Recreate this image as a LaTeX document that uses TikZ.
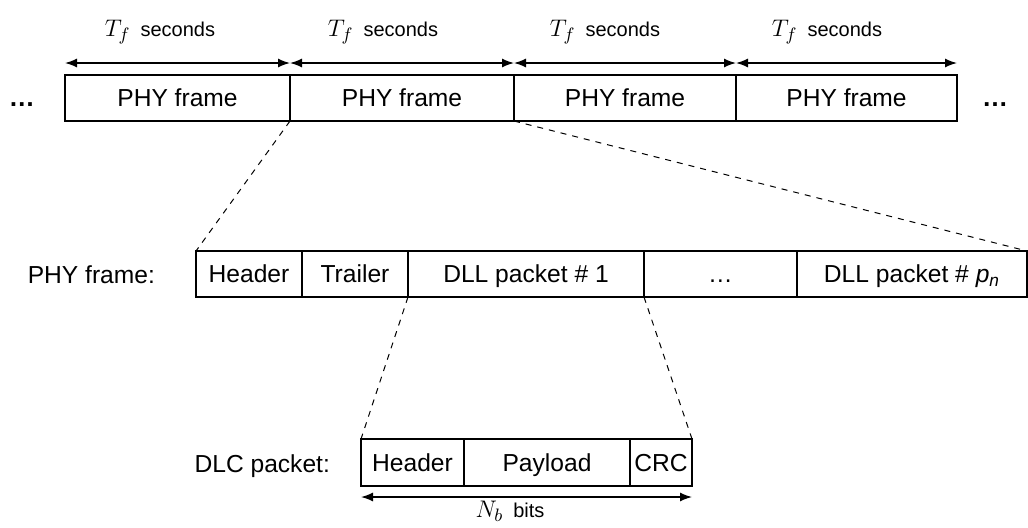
\documentclass[tikz,border=0pt]{standalone}
\usepackage{fontspec}
\setmainfont{Liberation Sans}
\usetikzlibrary{positioning, arrows.meta}
\tikzset{
  cell/.style={draw, line width=0.7pt, minimum height=23pt, inner sep=0pt, outer sep=0pt,
    text height=8.8pt, text depth=0pt},
  span/.style={line width=0.7pt, {Latex[length=6pt, width=4.5pt]}-{Latex[length=6pt, width=4.5pt]}},
  zoomline/.style={dashed, line width=0.5pt},
  small/.style={anchor=base, font=\fontsize{10}{12}\selectfont},
}
\begin{document}
\begin{tikzpicture}[x=0.5pt, y=-0.5pt, font=\fontsize{12.3}{14}\selectfont]
    \useasboundingbox (0,0) rectangle (1028,527);
    % PHY frames
    \node[cell, minimum width=112.5pt] (f1) at (177.5,98) {PHY frame};
    \node[cell, minimum width=112pt, right=0pt of f1] (f2) {PHY frame};
    \node[cell, minimum width=111pt, right=0pt of f2] (f3) {PHY frame};
    \node[cell, minimum width=110.5pt, right=0pt of f3] (f4) {PHY frame};
    \node[anchor=base, font=\fontsize{13}{15}\selectfont\bfseries] (dotsl) at (22,106) {…};
    \node[anchor=base, font=\fontsize{13}{15}\selectfont\bfseries] (dotsr) at (995,106) {…};
    \draw[span] ([yshift=6pt]f1.north west) -- ([yshift=6pt]f1.north east);
    \draw[span] ([yshift=6pt]f2.north west) -- ([yshift=6pt]f2.north east);
    \draw[span] ([yshift=6pt]f3.north west) -- ([yshift=6pt]f3.north east);
    \draw[span] ([yshift=6pt]f4.north west) -- ([yshift=6pt]f4.north east);
    \node[small] (t1) at (160,36) {{\fontsize{13}{15}\selectfont$T_f$}\hspace{5pt}seconds};
    \node[small] (t2) at (383,36) {{\fontsize{13}{15}\selectfont$T_f$}\hspace{5pt}seconds};
    \node[small] (t3) at (605,36) {{\fontsize{13}{15}\selectfont$T_f$}\hspace{5pt}seconds};
    \node[small] (t4) at (827,36) {{\fontsize{13}{15}\selectfont$T_f$}\hspace{5pt}seconds};
    % PHY frame layout
    \node[anchor=base east] (phylabel) at (162,283) {PHY frame:};
    \node[cell, minimum width=53pt] (m1) at (249,274) {Header};
    \node[cell, minimum width=53pt, right=0pt of m1] (m2) {Trailer};
    \node[cell, minimum width=118pt, right=0pt of m2] (m3) {DLL packet \# 1};
    \node[cell, minimum width=76.5pt, right=0pt of m3] (m4) {…};
    \node[cell, minimum width=115pt, right=0pt of m4] (m5) {DLL packet \# \textit{p}\textsubscript{\textit{n}}};
    \draw[zoomline] (f2.south west) -- (m1.north west);
    \draw[zoomline] (f2.south east) -- (m5.north east);
    % DLC packet layout
    \node[anchor=base east] (dlclabel) at (337,472) {DLC packet:};
    \node[cell, minimum width=51.5pt, minimum height=23.5pt] (d1) at (412.5,462.5) {Header};
    \node[cell, minimum width=83pt, minimum height=23.5pt, right=0pt of d1] (d2) {Payload};
    \node[cell, minimum width=31pt, minimum height=23.5pt, right=0pt of d2] (d3) {CRC};
    \draw[zoomline] (m3.south west) -- (d1.north west);
    \draw[zoomline] (m3.south east) -- (d3.north east);
    \draw[span] ([yshift=-5.5pt]d1.south west) -- ([yshift=-5.5pt]d3.south east);
    \node[small] (nb) at (510,517) {{\fontsize{13}{15}\selectfont$N_b$}\hspace{5pt}bits};
\end{tikzpicture}
\end{document}
